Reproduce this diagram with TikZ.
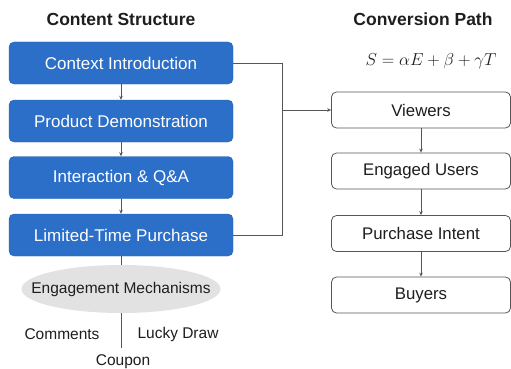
\documentclass[tikz,border=0pt]{standalone}
\usepackage{fontspec}
\setmainfont{Liberation Sans}
\usetikzlibrary{arrows.meta,shapes.geometric}
\definecolor{boxblue}{HTML}{2C6FC9}
\definecolor{boxedge}{HTML}{2560B0}
\definecolor{linegray}{HTML}{555555}
\definecolor{ellgray}{HTML}{E2E2E2}
\definecolor{txt}{HTML}{1E1E1E}
\tikzset{
  bluebox/.style={draw=boxedge, fill=boxblue, rounded corners=5pt, minimum width=224pt, minimum height=42pt, text=white, font=\fontsize{17}{19}\selectfont, inner sep=0pt},
  whitebox/.style={draw=linegray, fill=white, rounded corners=5pt, minimum width=179pt, minimum height=36pt, text=txt, font=\fontsize{16.8}{19}\selectfont, inner sep=0pt, line width=0.8pt},
  title/.style={font=\bfseries\fontsize{17.5}{20}\selectfont, text=txt},
  conn/.style={draw=linegray, line width=0.8pt},
  arr/.style={conn, -{Stealth[length=4pt,width=3.5pt]}},
  small/.style={font=\fontsize{15.5}{17}\selectfont, text=txt, inner sep=0pt}
}
\begin{document}
\begin{tikzpicture}[x=1pt,y=-1pt]
\useasboundingbox[fill=white] (0,0) rectangle (511,369);
\node[title] (t1) at (121,19) {Content Structure};
\node[title] (t2) at (423,19) {Conversion Path};
\node[text=txt, font=\fontsize{17.4}{19}\selectfont] (f) at (431,61) {$S=\alpha E+\beta+\gamma T$};

\node[bluebox] (b1) at (121,63) {Context Introduction};
\node[bluebox] (b2) at (121,121) {Product Demonstration};
\node[bluebox] (b3) at (121,177.5) {Interaction \& Q\&A};
\node[bluebox] (b4) at (121,235) {Limited-Time Purchase};

\node[whitebox] (v1) at (421,110) {Viewers};
\node[whitebox] (v2) at (421,171) {Engaged Users};
\node[whitebox] (v3) at (421,233.5) {Purchase Intent};
\node[whitebox] (v4) at (421,295) {Buyers};

\node[ellipse, draw=none, fill=ellgray, minimum width=199pt, minimum height=48pt, inner sep=0pt] (e) at (121,289) {};
\node[small] (et) at (e.center) {Engagement Mechanisms};

\node[small] (c1) at (62,334) {Comments};
\node[small] (c2) at (178,334) {Lucky Draw};
\node[small] (c3) at (123,362) {Coupon};
\coordinate (ebot) at (121,348);

\draw[arr] (b1) -- (b2);
\draw[arr] (b2) -- (b3);
\draw[arr] (b3) -- (b4);
\draw[arr] (v1) -- (v2);
\draw[arr] (v2) -- (v3);
\draw[arr] (v3) -- (v4);

\coordinate (j1) at (282,63);
\coordinate (j2) at (282,235);
\coordinate (j3) at (282,110);
\draw[conn] (b1.east) -- (j1) -- (j2) -- (b4.east);
\draw[arr] (j3) -- (v1.west);
\draw[conn] (b4.south) -- (e.north);
\draw[conn] (e.south) -- (ebot);
\end{tikzpicture}
\end{document}
